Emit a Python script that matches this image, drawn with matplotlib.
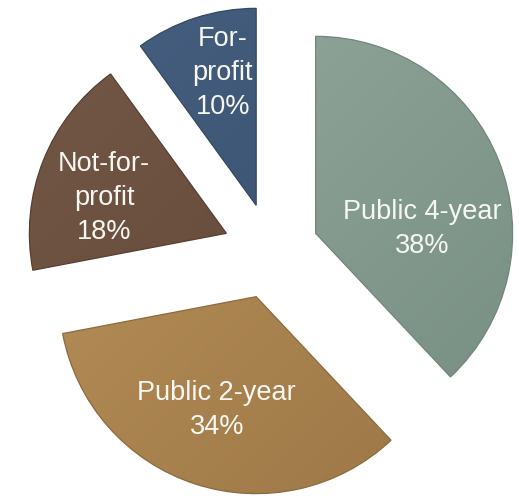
import numpy as np
import matplotlib.pyplot as plt
from matplotlib.colors import LinearSegmentedColormap

# slice data (clockwise from 12 o'clock)
categories = ["Public 4-year", "Public 2-year", "Not-for-\nprofit", "For-\nprofit"]
shares = [38, 34, 18, 10]
# light / dark tones for the shaded fill
light_colors = ["#93a89d", "#b89159", "#735848", "#465f80"]
dark_colors = ["#778e83", "#9c7646", "#614636", "#384f6c"]
edge_colors = ["#70867b", "#8c6a3e", "#573f31", "#33475f"]

# label placement relative to each slice tip, in radius units
label_offsets = [(0.54, 0.02), (-0.20, -0.575), (-0.62, 0.18), (-0.17, 0.67)]

W, H = 519, 499
R = 197
fig = plt.figure(figsize=(W / 100, H / 100), dpi=100)
ax = fig.add_axes([0, 0, 1, 1])

# explode is in data units (pixels here)
wedges, _ = ax.pie(shares, startangle=90, counterclock=False,
                   explode=[48] * 4, radius=R, center=(271, 248),
                   colors=dark_colors, frame=True)
ax.set_xlim(0, W)
ax.set_ylim(0, H)
ax.set_aspect("equal")
ax.axis("off")

# gradient from top-left (light) to bottom-right (dark)
gy, gx = np.mgrid[0:1:200j, 0:1:200j]
grad = (gx + gy) / 2
for i, w in enumerate(wedges):
    cmap = LinearSegmentedColormap.from_list("s%d" % i, [light_colors[i], dark_colors[i]])
    cx, cy = w.center
    img = ax.imshow(grad, cmap=cmap, extent=(cx - R, cx + R, cy - R, cy + R),
                    origin="upper", zorder=2, interpolation="bilinear")
    img.set_clip_path(w)
    w.set_edgecolor(edge_colors[i])
    w.set_linewidth(0.9)
    w.set_zorder(3)
    w.set_facecolor("none")

    dx, dy = label_offsets[i]
    ax.text(cx + dx * R, cy + dy * R, "%s\n%d%%" % (categories[i], shares[i]),
            ha="center", va="center", color="#f7f7f2", fontsize=19.5,
            family="Liberation Sans", linespacing=1.4, zorder=4)

ax.set_xlim(0, W)
ax.set_ylim(0, H)
fig.savefig("out.png", dpi=100, facecolor="white")
